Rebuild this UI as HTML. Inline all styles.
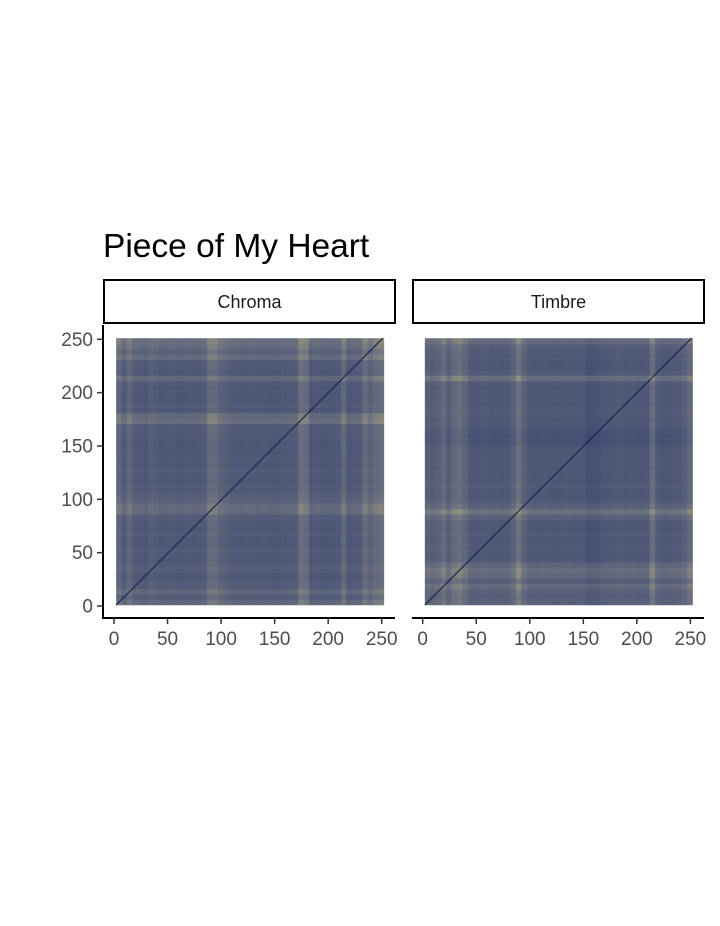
<!DOCTYPE html>
<html><head><meta charset="utf-8"><style>
body{margin:0;background:#fff;}
svg text{font-family:"Liberation Sans",Arial,sans-serif;}
</style></head><body>
<svg id="chart" width="720" height="921" xmlns="http://www.w3.org/2000/svg">
<text x="103" y="257" font-size="33.5" fill="#000">Piece of My Heart</text>
<g id="panels"></g>
</svg>
<script>
// per-segment (5-unit block) novelty values, 0=similar(blue) 1=dissimilar(yellow)
const chromaValues = [0.5,0.32,0.5,0.32,0.3,0.27,0.36,0.32,0.27,0.3,0.3,0.27,0.27,0.3,0.27,0.3,0.32,0.55,0.55,0.42,0.36,0.3,0.3,0.27,0.3,0.3,0.27,0.3,0.27,0.27,0.27,0.3,0.3,0.32,0.6,0.55,0.27,0.3,0.27,0.27,0.27,0.3,0.52,0.27,0.3,0.32,0.55,0.42,0.55,0.6];
const timbreValues = [0.42,0.36,0.42,0.55,0.36,0.55,0.6,0.48,0.3,0.27,0.3,0.3,0.27,0.3,0.27,0.3,0.42,0.65,0.42,0.3,0.27,0.27,0.3,0.27,0.27,0.27,0.3,0.27,0.27,0.27,0.18,0.18,0.22,0.27,0.27,0.3,0.32,0.27,0.3,0.27,0.27,0.3,0.6,0.32,0.27,0.27,0.3,0.32,0.38,0.55];
const tickLabels = [0,50,100,150,200,250];
const facetNames = ["Chroma","Timbre"];
const blockSize = 5;

const NS="http://www.w3.org/2000/svg";
const root=document.getElementById('panels');
function mk(t,a,p){const e=document.createElementNS(NS,t);for(const k in a)e.setAttribute(k,a[k]);(p||root).appendChild(e);return e;}
function lerp(a,b,t){return a.map((v,i)=>Math.round(v+(b[i]-v)*t));}
function color(v){const c0=[35,50,105],c1=[112,116,128],c2=[236,222,110];
 v=Math.max(0,Math.min(1,v));const c=v<0.5?lerp(c0,c1,v/0.5):lerp(c1,c2,(v-0.5)/0.5);return `rgb(${c})`;}

const panels=[{x0:114,vals:chromaValues,stripX:104,name:facetNames[0]},{x0:422.7,vals:timbreValues,stripX:413,name:facetNames[1]}];
const yScale=u=>606-u*(266.7/250);
panels.forEach((p,pi)=>{
 const xScale=u=>p.x0+u*(267.7/250);
 const g=mk('g',{});
 
 
 const s=mk('rect',{x:p.stripX,y:280,width:291,height:43,fill:'#fff',stroke:'#000','stroke-width':2},g);
 
 
 const st=mk('text',{x:p.stripX+145.5,y:308,'font-size':18,'text-anchor':'middle',fill:'#1a1a1a'},g);st.textContent=p.name;
 
 
 const n=p.vals.length;
 for(let i=0;i<n;i++)for(let j=0;j<n;j++){
  const v=(p.vals[i]+p.vals[j])/2;
  const x=xScale(i*blockSize+2),y=yScale((j+1)*blockSize+1);
  const r=mk('rect',{x:x,y:y,width:xScale((i+1)*blockSize+2)-x+0.3,height:yScale(j*blockSize+1)-y+0.3,fill:color(v)},g);
  
  
 }
 const d=mk('line',{x1:xScale(2),y1:yScale(1),x2:xScale(251),y2:yScale(251),stroke:'#1a2550','stroke-width':1.2},g);
 
 
 const ax=mk('line',{x1:p.stripX-1,y1:618,x2:p.stripX+291,y2:618,stroke:'#000','stroke-width':2},g);
 
 
 tickLabels.forEach(t=>{
  mk('line',{x1:xScale(t),y1:618,x2:xScale(t),y2:624,stroke:'#333','stroke-width':1.5},g);
  const tx=mk('text',{x:xScale(t),y:645,'font-size':19,'text-anchor':'middle',fill:'#4d4d4d'},g);tx.textContent=t;
  
  
 });
});
const ya=mk('line',{x1:103,y1:325,x2:103,y2:619,stroke:'#000','stroke-width':2});


tickLabels.forEach(t=>{
 mk('line',{x1:97,y1:yScale(t),x2:103,y2:yScale(t),stroke:'#333','stroke-width':1.5});
 const tx=mk('text',{x:93,y:yScale(t)+6.5,'font-size':19,'text-anchor':'end',fill:'#4d4d4d'});tx.textContent=t;
 
 
});
</script>
</body></html>
